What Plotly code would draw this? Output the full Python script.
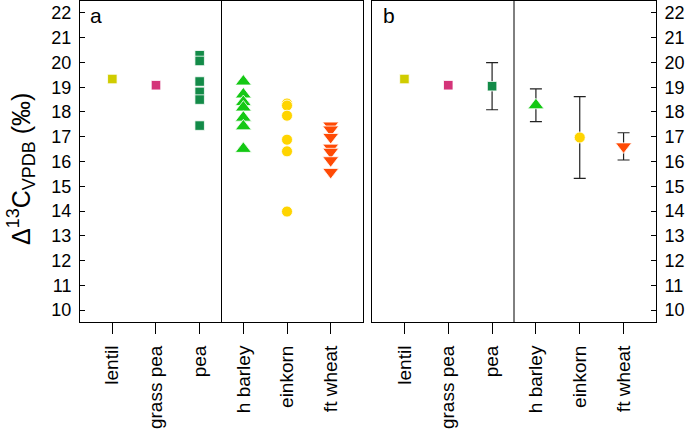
import plotly.graph_objects as go

# ---------------- data ----------------
categories = ["lentil", "grass pea", "pea", "h barley", "einkorn", "ft wheat"]
cat_pos = [1, 2, 3, 4, 5, 6]
y_ticks = [10, 11, 12, 13, 14, 15, 16, 17, 18, 19, 20, 21, 22]

colors = ["#D0CC00", "#D43479", "#138B48", "#14C814", "#FFD400", "#FF4A05"]
symbols = ["square", "square", "square", "triangle-up", "circle", "triangle-down"]
sizes = [9.5, 9.5, 9.5, 14, 11, 14]

# panel a: individual values
lentil_vals = [19.33]
grass_pea_vals = [19.08]
pea_vals = [20.29, 20.06, 19.23, 18.81, 18.50, 17.45]
barley_vals = [19.23, 18.71, 18.40, 18.18, 17.77, 17.42, 16.51]
einkorn_vals = [18.34, 18.26, 17.85, 16.88, 16.41, 13.98]
wheat_vals = [17.45, 17.29, 16.99, 16.56, 16.39, 16.05, 15.58]
panel_a_values = [lentil_vals, grass_pea_vals, pea_vals, barley_vals, einkorn_vals, wheat_vals]

# panel b: means and error
mean_vals = [19.33, 19.08, 19.04, 18.27, 16.97, 16.61]
err_vals = [0.0, 0.0, 0.95, 0.66, 1.65, 0.55]

group_divider = 3.5
panel_labels = ["a", "b"]
y_title = ("Δ<sup><span style='font-size:18px'>13</span></sup>C"
           "<sub><span style='font-size:18px'>VPDB</span></sub> (‰)")

# ---------------- figure ----------------
W, H = 685, 431
FONT = "Liberation Sans, Arial, Helvetica, sans-serif"

fig = go.Figure()

for i, cat in enumerate(categories):
    vals = panel_a_values[i]
    fig.add_trace(go.Scatter(
        x=[cat_pos[i]] * len(vals), y=vals, mode="markers",
        marker=dict(symbol=symbols[i], size=sizes[i], color=colors[i],
                    line=dict(color="white", width=0.8)),
        xaxis="x", yaxis="y", showlegend=False, name=cat))

for i, cat in enumerate(categories):
    tr = dict(
        x=[cat_pos[i]], y=[mean_vals[i]], mode="markers",
        marker=dict(symbol=symbols[i], size=sizes[i], color=colors[i],
                    line=dict(color="white", width=0.8)),
        xaxis="x2", yaxis="y2", showlegend=False, name=cat)
    if err_vals[i] > 0:
        tr["error_y"] = dict(type="data", array=[err_vals[i]], color="#222222",
                             thickness=1.2, width=6, visible=True)
    fig.add_trace(go.Scatter(**tr))

xr = [0.26, 6.74]
yr = [9.52, 22.48]

xcommon = dict(range=xr, tickvals=cat_pos, ticktext=categories, tickangle=-90,
               ticks="outside", ticklen=11, tickwidth=1, tickcolor="black",
               showline=True, linecolor="black", linewidth=1, mirror=True,
               showgrid=False, zeroline=False, automargin=False,
               tickfont=dict(size=19, color="black", family=FONT),
               ticklabelstandoff=4)
ycommon = dict(range=yr, tickvals=y_ticks, ticks="inside", ticklen=5,
               tickwidth=1, tickcolor="black",
               showline=True, linecolor="black", linewidth=1, mirror=True,
               showgrid=False, zeroline=False, automargin=False,
               tickfont=dict(size=18, color="black", family=FONT),
               ticklabelstandoff=4)

ydom = [(H - 322) / H, (H - 1) / H]
fig.update_layout(
    width=W, height=H, template="none",
    paper_bgcolor="white", plot_bgcolor="white",
    margin=dict(l=0, r=0, t=0, b=0),
    font=dict(family=FONT, color="black"),
    xaxis=dict(domain=[80 / W, 363 / W], anchor="y", **xcommon),
    xaxis2=dict(domain=[372 / W, 656 / W], anchor="y2", **xcommon),
    yaxis=dict(domain=ydom, anchor="x", side="left", **ycommon),
    yaxis2=dict(domain=ydom, anchor="x2", side="right", **ycommon),
)

for xref, yref in [("x", "y"), ("x2", "y2")]:
    fig.add_shape(type="line", xref=xref, yref=yref + " domain",
                  x0=group_divider, x1=group_divider, y0=0, y1=1,
                  line=dict(color="black", width=1))

for lab, xref, yref in zip(panel_labels, ["x domain", "x2 domain"], ["y domain", "y2 domain"]):
    fig.add_annotation(text=lab, xref=xref, yref=yref, x=0.03, y=1,
                       xanchor="left", yanchor="top", showarrow=False,
                       yshift=-1, font=dict(size=21, color="black", family=FONT))

fig.add_annotation(text=y_title, xref="paper", yref="paper",
                   x=21 / W, y=(H - 169) / H, xanchor="center", yanchor="middle",
                   textangle=-90, showarrow=False,
                   font=dict(size=25, color="black", family=FONT))

fig.write_html("out.html", config={"displayModeBar": False},
               post_script="document.body.style.margin='0';document.body.style.padding='0';")
